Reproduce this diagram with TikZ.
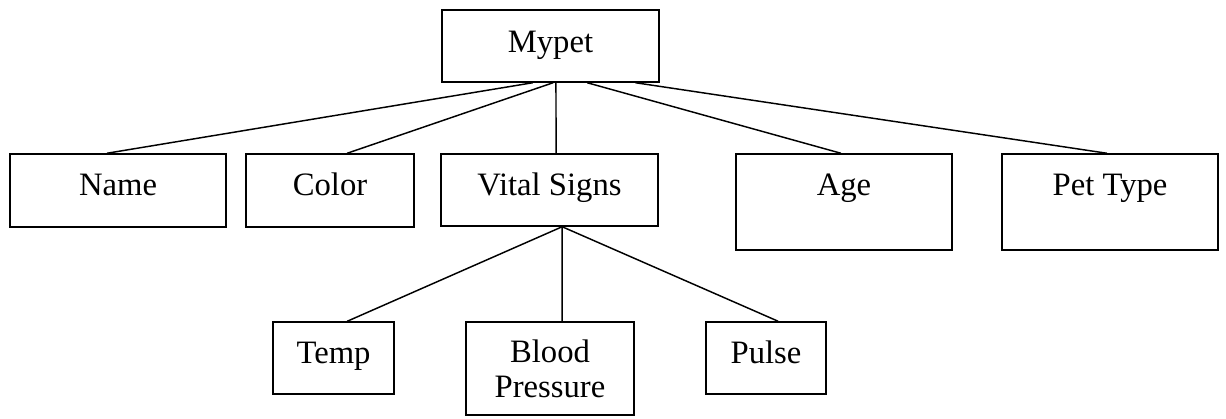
\documentclass[tikz,border=0pt]{standalone}
\usepackage{fontspec}
\setmainfont{Liberation Serif}
\usetikzlibrary{calc}
\begin{document}
\begin{tikzpicture}[x=0.75pt,y=-0.75pt,
  pbox/.style 2 args={draw, line width=1.1pt, rectangle, inner sep=0pt,
    minimum width={#1*0.75pt}, minimum height={#2*0.75pt}},
  lbl/.style={inner sep=0pt, font=\fontsize{24.5pt}{26.6pt}\selectfont, anchor=base, align=center},
  conn/.style={line width=1.1pt}]
\useasboundingbox (0,0) rectangle (1226,418);
% boxes
\node[pbox={217}{72}] (mypet) at (550.5,46) {};
\node[pbox={216}{73}] (name) at (118,190.5) {};
\node[pbox={168}{73}] (color) at (330,190.5) {};
\node[pbox={217}{72}] (vital) at (549.5,190) {};
\node[pbox={216}{96}] (age) at (844,202) {};
\node[pbox={216}{96}] (pettype) at (1110,202) {};
\node[pbox={121}{72}] (temp) at (333.5,358) {};
\node[pbox={168}{93}] (bp) at (550,368.5) {};
\node[pbox={120}{72}] (pulse) at (766,358) {};
% labels
\node[lbl] (tmypet) at (550.5,52) {Mypet};
\node[lbl] (tname) at (118,195) {Name};
\node[lbl] (tcolor) at (330,195) {Color};
\node[lbl] (tvital) at (549.5,195) {Vital Signs};
\node[lbl] (tage) at (844,195) {Age};
\node[lbl] (tpettype) at (1110,195) {Pet Type};
\node[lbl] (ttemp) at (333.5,363) {Temp};
\node[lbl] (tbp) at (550,397.5) {Blood\\Pressure};
\node[lbl] (tpulse) at (766,363) {Pulse};
% connectors
\draw[conn] ($(mypet.south west)!0.419!(mypet.south east)$) -- ($(name.north west)!0.449!(name.north east)$);
\draw[conn] ($(mypet.south west)!0.512!(mypet.south east)$) -- ($(color.north west)!0.601!(color.north east)$);
\draw[conn] ($(mypet.south west)!0.525!(mypet.south east)$) -- ($(vital.north west)!0.530!(vital.north east)$);
\draw[conn] ($(mypet.south west)!0.668!(mypet.south east)$) -- ($(age.north west)!0.486!(age.north east)$);
\draw[conn] ($(mypet.south west)!0.889!(mypet.south east)$) -- ($(pettype.north west)!0.486!(pettype.north east)$);
\draw[conn] ($(vital.south west)!0.558!(vital.south east)$) -- ($(temp.north west)!0.612!(temp.north east)$);
\draw[conn] ($(vital.south west)!0.558!(vital.south east)$) -- ($(bp.north west)!0.571!(bp.north east)$);
\draw[conn] ($(vital.south west)!0.558!(vital.south east)$) -- ($(pulse.north west)!0.6!(pulse.north east)$);
\end{tikzpicture}
\end{document}
